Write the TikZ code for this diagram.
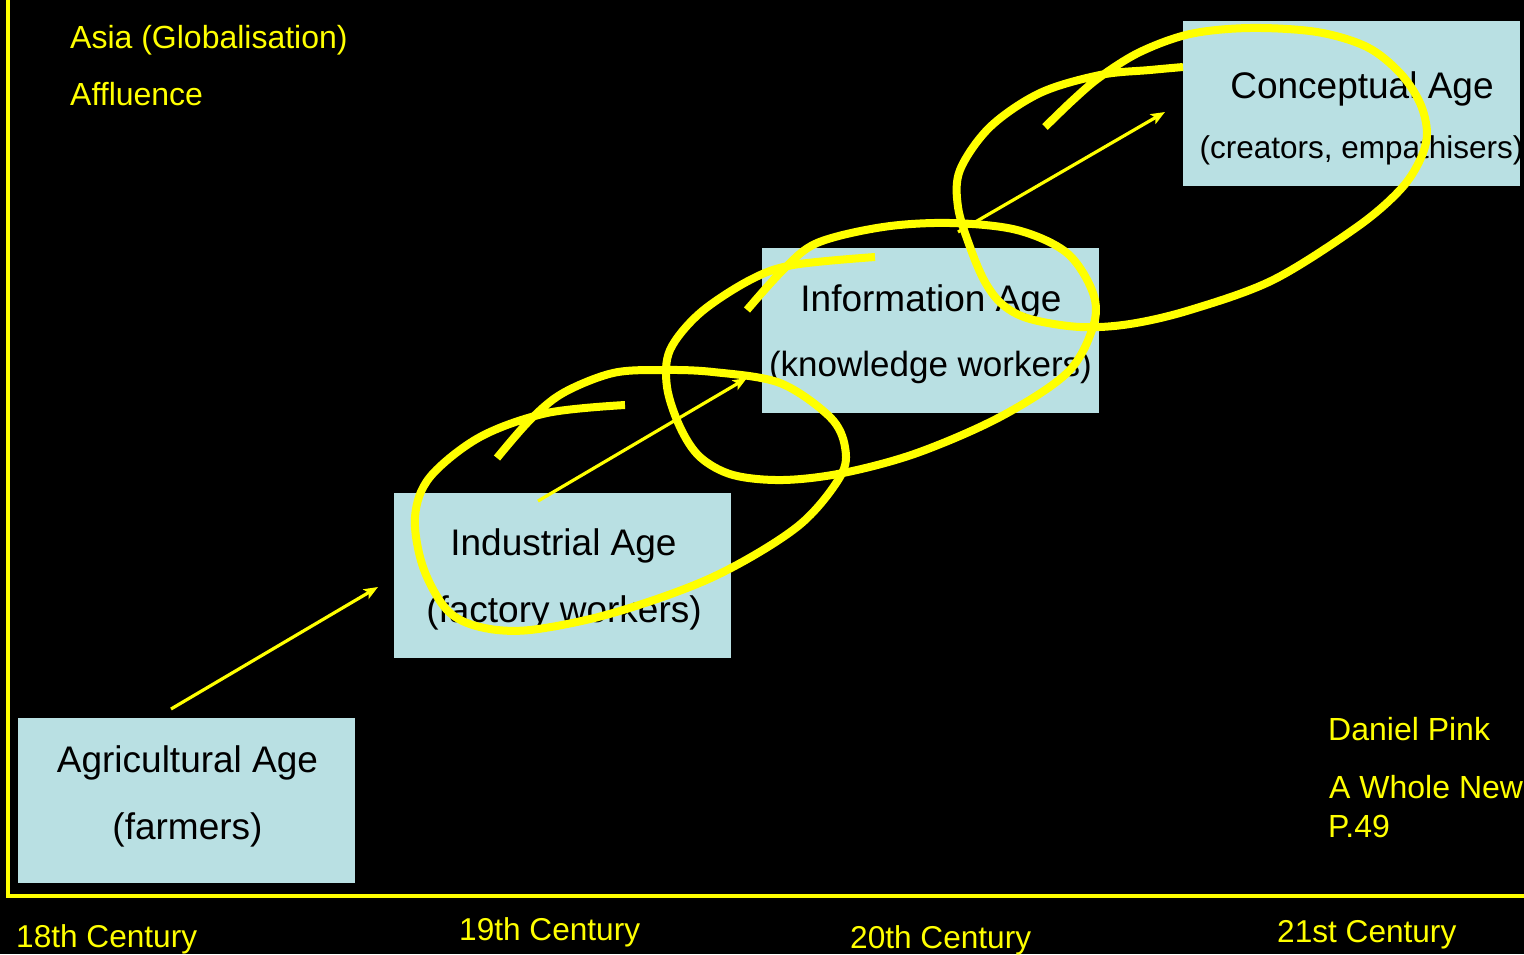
\documentclass[tikz,border=0pt]{standalone}
\usepackage{fontspec}
\setmainfont{Liberation Sans}
\usetikzlibrary{arrows.meta}
\definecolor{agefill}{HTML}{B9E0E3}
\definecolor{hiyellow}{HTML}{FFFF00}
\begin{document}
\begin{tikzpicture}[x=1pt,y=-1pt,
  agebox/.style={fill=agefill, draw=none, minimum width=337pt, minimum height=165pt, inner sep=0pt, outer sep=0pt, anchor=north west},
  agetext/.style={text=black, inner sep=0pt, anchor=base, font=\fontsize{37}{44}\selectfont},
  ytext/.style={text=hiyellow, inner sep=0pt, anchor=base west, font=\fontsize{32}{38}\selectfont},
  ctext/.style={ytext, font=\fontsize{31.6}{38}\selectfont},
  progress/.style={draw=hiyellow, line width=3.2pt, -{Stealth[length=14pt,width=11pt,inset=3pt]}},
  circling/.style={draw=hiyellow, line width=8pt, line join=round}]
% background
\fill[black] (0,0) rectangle (1524,954);
\useasboundingbox (0,0) rectangle (1524,954);
% axes
\coordinate (axtop) at (8,0);
\coordinate (axcorner) at (8,896);
\coordinate (axright) at (1524,896);
\draw[hiyellow, line width=3.5pt] (axtop) -- (axcorner) -- (axright);
% boxes
\node[agebox] (agri) at (18,718) {};
\node[agebox] (indu) at (394,493) {};
\node[agebox] (info) at (762,248) {};
\node[agebox] (conc) at (1183,21) {};
% box texts
\node[agetext] (agri1) at (187.5,772) {Agricultural Age};
\node[agetext] (agri2) at (187.5,839) {(farmers)};
\node[agetext] (indu1) at (563.5,555) {Industrial Age};
\node[agetext] (indu2) at (564,622) {(factory workers)};
\node[agetext] (info1) at (931,311) {Information Age};
\node[agetext, font=\fontsize{35}{42}\selectfont] (info2) at (930.5,376) {(knowledge workers)};
\node[agetext] (conc1) at (1362,98) {Conceptual Age};
\node[agetext, font=\fontsize{31.5}{38}\selectfont] (conc2) at (1361.5,158) {(creators, empathisers)};
% yellow texts
\node[ytext] (asia) at (70,48) {Asia (Globalisation)};
\node[ytext] (affl) at (70,105) {Affluence};
\node[ytext] (pink) at (1328,740) {Daniel Pink};
\node[ytext] (book) at (1329,798) {A Whole New};
\node[ytext] (page) at (1328,837) {P.49};
\node[ctext] (c18) at (16,947) {18th Century};
\node[ctext] (c19) at (459,940) {19th Century};
\node[ctext] (c20) at (850,948) {20th Century};
\node[ctext] (c21) at (1277,942) {21st Century};
% arrows
\coordinate (a1s) at (171,709);
\coordinate (a1e) at (378,587);
\coordinate (a2s) at (538,501);
\coordinate (a2e) at (747,378);
\coordinate (a3s) at (958,232);
\coordinate (a3e) at (1165,112);
\draw[progress] (a1s) -- (a1e);
\draw[progress] (a2s) -- (a2e);
\draw[progress] (a3s) -- (a3e);
% hand-drawn loops
\draw[circling] plot[smooth, tension=0.55] coordinates {(625,405) (547,413) (480,437) (430,477) (415,517) (423,567) (447,610) (480,627) (530,630) (613,613) (713,577) (797,527) (840,477) (845,447) (830,417) (780,383) (713,372) (663,370) (613,373) (563,393) (530,420) (497,458)};
\draw[circling] plot[smooth, tension=0.55] coordinates {(875,257) (793,265) (750,280) (700,313) (670,350) (667,387) (680,427) (700,457) (733,475) (783,480) (843,473) (917,453) (1000,417) (1067,373) (1093,327) (1093,293) (1067,253) (1017,230) (950,223) (883,227) (817,243) (783,270) (747,310)};
\draw[circling] plot[smooth, tension=0.55] coordinates {(1183,67) (1150,70) (1100,75) (1040,93) (990,127) (960,170) (958,207) (970,247) (985,282) (1003,305) (1030,319) (1080,327) (1130,324) (1190,310) (1273,280) (1357,227) (1400,190) (1420,160) (1427,133) (1420,103) (1400,73) (1367,47) (1317,32) (1250,28) (1190,34) (1140,52) (1100,77) (1073,100) (1045,127)};
\end{tikzpicture}
\end{document}
